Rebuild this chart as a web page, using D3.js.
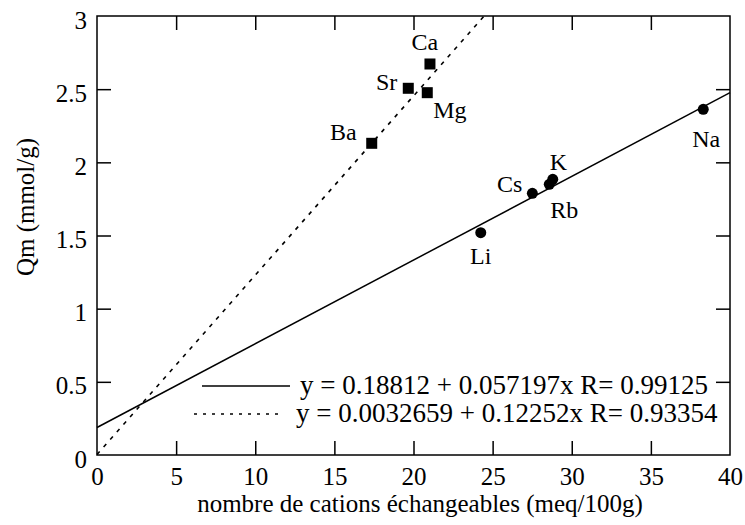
<!DOCTYPE html>
<html><head><meta charset="utf-8">
<script src="https://cdn.jsdelivr.net/npm/d3@7"></script>
<style>
html,body{margin:0;padding:0;background:#fff;}
svg text{font-family:"Liberation Serif","Times New Roman",serif;fill:#000;}
</style></head>
<body><svg id="c" width="745" height="525"></svg>
<script>
// ---- data ----
const monoNames = ["Li", "Cs", "Rb", "K", "Na"];
const monoX = [24.25, 27.51, 28.58, 28.80, 38.31];
const monoY = [1.519, 1.788, 1.850, 1.884, 2.362];
const diNames = ["Ba", "Sr", "Mg", "Ca"];
const diX = [17.36, 19.67, 20.87, 21.04];
const diY = [2.130, 2.506, 2.476, 2.672];
const fitMono = {a: 0.18812, b: 0.057197, R: 0.99125};
const fitDi = {a: 0.0032659, b: 0.12252, R: 0.93354};
const xTicks = [0, 5, 10, 15, 20, 25, 30, 35, 40];
const yTicks = [0, 0.5, 1, 1.5, 2, 2.5, 3];
const xTitle = "nombre de cations échangeables (meq/100g)";
const yTitle = "Qm (mmol/g)";
const legendTexts = [
  "y = 0.18812 + 0.057197x R= 0.99125",
  "y = 0.0032659 + 0.12252x R= 0.93354"
];
// label placement (anchor, dx, dy in px relative to the point)
const labelPlace = {
  Ca: ["middle", -5, -14], Sr: ["end", -11, 2], Mg: ["start", 6, 25], Ba: ["end", -15, -3],
  K: ["start", -3, -9], Cs: ["end", -10, -1], Rb: ["start", 1, 34], Li: ["middle", 0, 31], Na: ["middle", 3, 38]
};

// ---- layout ----
const L = 97, R = 730, T = 16, B = 455;
const svg = d3.select("#c");
const x = d3.scaleLinear().domain([0, 40]).range([L, R]);
const y = d3.scaleLinear().domain([0, 3]).range([B, T]);
const tickLen = 14, fs = 25;

// tick marks all four sides
function marksOnly(g){ g.select(".domain").remove(); g.selectAll("text").remove(); g.selectAll("line").attr("stroke","#000").attr("stroke-width",1.5); }
svg.append("g").attr("transform",`translate(0,${B})`)
  .call(d3.axisBottom(x).tickValues(xTicks.slice(1,-1)).tickSizeInner(-tickLen).tickSizeOuter(0)).call(marksOnly);
svg.append("g").attr("transform",`translate(0,${T})`)
  .call(d3.axisTop(x).tickValues(xTicks.slice(1,-1)).tickSizeInner(-tickLen).tickSizeOuter(0)).call(marksOnly);
svg.append("g").attr("transform",`translate(${L},0)`)
  .call(d3.axisLeft(y).tickValues(yTicks.slice(1,-1)).tickSizeInner(-tickLen).tickSizeOuter(0)).call(marksOnly);
svg.append("g").attr("transform",`translate(${R},0)`)
  .call(d3.axisRight(y).tickValues(yTicks.slice(1,-1)).tickSizeInner(-tickLen).tickSizeOuter(0)).call(marksOnly);

// tick labels
const gx = svg.append("g").attr("transform",`translate(0,${B})`)
  .call(d3.axisBottom(x).tickValues(xTicks).tickSize(0).tickPadding(12).tickFormat(d=>String(d)));
gx.select(".domain").remove();
gx.selectAll("text").attr("font-size",fs).attr("font-family","Liberation Serif");
const gy = svg.append("g").attr("transform",`translate(${L},0)`)
  .call(d3.axisLeft(y).tickValues(yTicks).tickSize(0).tickPadding(10).tickFormat(d=>String(d)));
gy.select(".domain").remove();
gy.selectAll("text").attr("font-size",fs).attr("font-family","Liberation Serif").attr("dy","0.48em");

// frame
svg.append("rect").attr("x",L).attr("y",T).attr("width",R-L).attr("height",B-T)
  .attr("fill","none").attr("stroke","#000").attr("stroke-width",1.5);

// fit lines
const line = d3.line().x(d=>x(d[0])).y(d=>y(d[1]));
svg.append("path").datum([[0, fitMono.a],[40, fitMono.a + 40*fitMono.b]])
  .attr("d",line).attr("fill","none").attr("stroke","#000").attr("stroke-width",1.5);
const xEndDi = (3 - fitDi.a)/fitDi.b;
svg.append("path").datum([[0, fitDi.a],[xEndDi, 3]])
  .attr("d",line).attr("fill","none").attr("stroke","#000").attr("stroke-width",1.6)
  .attr("stroke-dasharray","4,6");

// points
const mono = monoNames.map((n,i)=>({n, x:monoX[i], y:monoY[i]}));
const di = diNames.map((n,i)=>({n, x:diX[i], y:diY[i]}));
svg.append("g").selectAll("circle").data(mono).join("circle")
  .attr("cx",d=>x(d.x)).attr("cy",d=>y(d.y)).attr("r",5.5).attr("fill","#000");
const sq = 11;
svg.append("g").selectAll("rect").data(di).join("rect")
  .attr("x",d=>x(d.x)-sq/2).attr("y",d=>y(d.y)-sq/2).attr("width",sq).attr("height",sq).attr("fill","#000");

// point labels
svg.append("g").selectAll("text").data(mono.concat(di)).join("text")
  .attr("x",d=>x(d.x)+labelPlace[d.n][1]).attr("y",d=>y(d.y)+labelPlace[d.n][2])
  .attr("text-anchor",d=>labelPlace[d.n][0]).attr("font-size",24).text(d=>d.n);

// legend
const lg = svg.append("g");
const legY = [386, 414];
lg.append("line").attr("x1",202).attr("x2",290).attr("y1",legY[0]).attr("y2",legY[0]).attr("stroke","#000").attr("stroke-width",1.5);
lg.append("line").attr("x1",194).attr("x2",282).attr("y1",legY[1]).attr("y2",legY[1]).attr("stroke","#000").attr("stroke-width",1.5).attr("stroke-dasharray","3,6");
lg.append("text").attr("x",300).attr("y",legY[0]+8).attr("font-size",27).text(legendTexts[0]);
lg.append("text").attr("x",296).attr("y",legY[1]+8).attr("font-size",27).text(legendTexts[1]);

// axis titles
svg.append("text").attr("x",420).attr("y",512).attr("text-anchor","middle").attr("font-size",fs).text(xTitle);
svg.append("text").attr("transform","translate(34,207) rotate(-90)").attr("text-anchor","middle").attr("font-size",fs).text(yTitle);
</script></body></html>
